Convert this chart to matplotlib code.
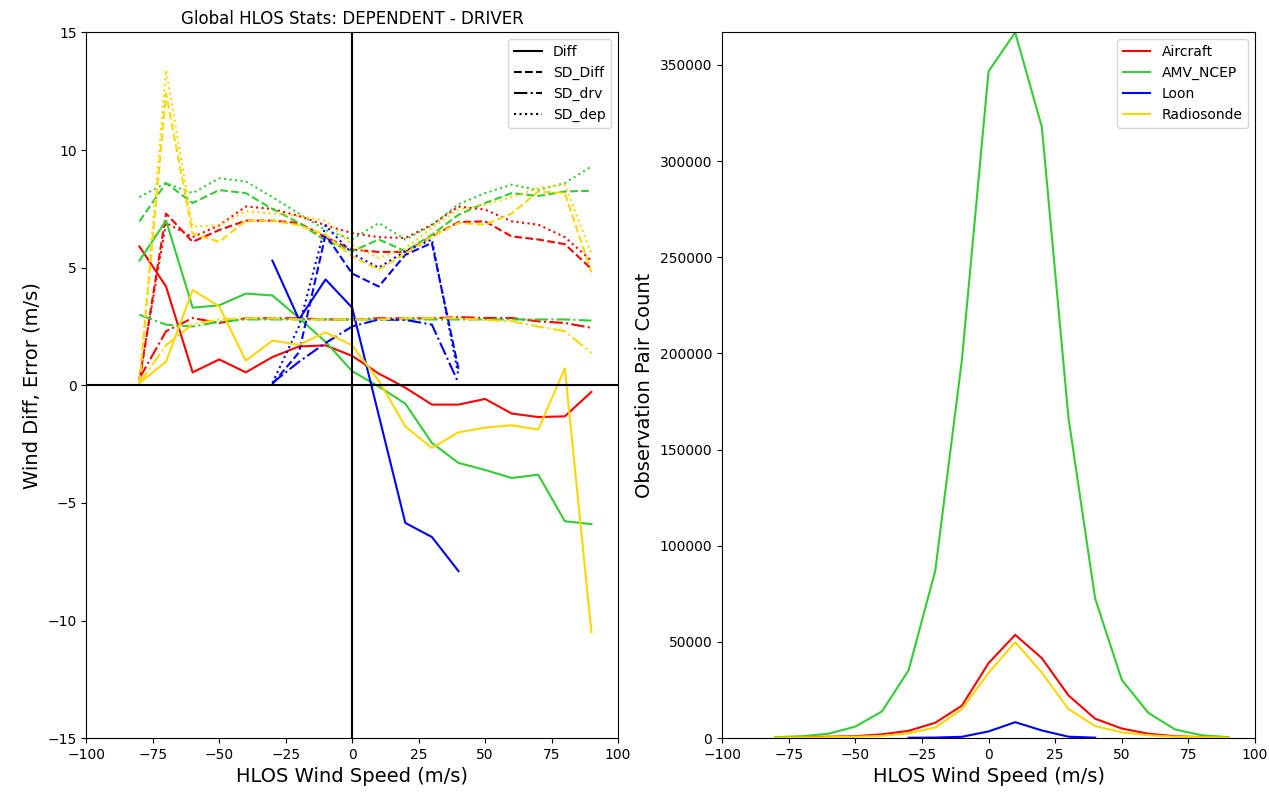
import numpy as np
import matplotlib
matplotlib.use("Agg")
import matplotlib.pyplot as plt

# HLOS wind speed bins
x = [-80, -70, -60, -50, -40, -30, -20, -10, 0, 10, 20, 30, 40, 50, 60, 70, 80, 90]
x_loon = [-30, -20, -10, 0, 10, 20, 30, 40]

# Diff (dependent - driver)
diff_air = [5.9, 4.2, 0.55, 1.1, 0.55, 1.2, 1.65, 1.7, 1.25, 0.5, -0.1, -0.82, -0.82, -0.58, -1.2, -1.35, -1.32, -0.28]
diff_amv = [5.3, 7.0, 3.3, 3.4, 3.9, 3.82, 2.86, 1.85, 0.6, -0.05, -0.78, -2.45, -3.3, -3.6, -3.94, -3.8, -5.78, -5.9]
diff_loon = [5.3, 2.8, 4.5, 3.3, -1.27, -5.85, -6.45, -7.9]
diff_rs = [0.1, 1.0, 4.05, 3.35, 1.05, 1.9, 1.72, 2.25, 1.7, 0.2, -1.75, -2.66, -2.0, -1.8, -1.7, -1.88, 0.72, -10.5]

# SD of diff
sdd_air = [0.2, 7.3, 6.1, 6.6, 7.0, 7.0, 6.9, 6.3, 5.77, 5.67, 5.67, 6.33, 6.94, 6.97, 6.33, 6.2, 6.0, 4.95]
sdd_amv = [6.97, 8.6, 7.75, 8.3, 8.17, 7.5, 6.9, 6.15, 5.7, 6.2, 5.7, 6.4, 7.25, 7.75, 8.17, 8.05, 8.24, 8.27]
sdd_loon = [0.05, 1.4, 6.4, 4.75, 4.2, 5.55, 6.05, 0.7]
sdd_rs = [0.1, 12.4, 6.45, 6.1, 7.0, 7.0, 6.8, 6.4, 5.48, 4.92, 5.6, 6.33, 6.9, 6.83, 7.3, 8.24, 8.17, 4.8]

# SD of driver
sdv_air = [0.3, 2.3, 2.86, 2.65, 2.85, 2.85, 2.85, 2.8, 2.8, 2.85, 2.85, 2.85, 2.9, 2.86, 2.86, 2.72, 2.65, 2.44]
sdv_amv = [3.0, 2.58, 2.5, 2.7, 2.8, 2.8, 2.8, 2.8, 2.8, 2.8, 2.8, 2.8, 2.8, 2.8, 2.8, 2.8, 2.8, 2.75]
sdv_loon = [0.1, 1.0, 1.8, 2.5, 2.8, 2.78, 2.58, 0.1]
sdv_rs = [0.1, 1.7, 2.6, 2.8, 2.85, 2.85, 2.8, 2.8, 2.8, 2.8, 2.85, 2.85, 2.85, 2.78, 2.72, 2.5, 2.3, 1.37]

# SD of dependent
sdp_air = [0.3, 6.9, 6.3, 6.8, 7.6, 7.5, 7.2, 6.8, 6.47, 6.3, 6.26, 6.83, 7.6, 7.47, 6.97, 6.83, 6.3, 5.3]
sdp_amv = [8.0, 8.6, 8.17, 8.8, 8.67, 8.0, 7.3, 6.6, 6.2, 6.9, 6.2, 6.8, 7.7, 8.17, 8.53, 8.3, 8.6, 9.3]
sdp_loon = [0.1, 2.5, 6.8, 5.6, 5.0, 5.7, 6.2, 0.4]
sdp_rs = [0.1, 13.4, 6.75, 6.8, 7.4, 7.3, 7.2, 7.0, 5.98, 5.41, 5.83, 6.69, 7.47, 7.68, 8.0, 8.39, 8.53, 5.6]

# observation pair counts
cnt_air = [250, 500, 750, 1000, 2000, 3800, 8000, 16900, 39000, 53700, 41600, 22200, 10100, 5000, 2300, 1000, 500, 250]
cnt_amv = [500, 1000, 2300, 6000, 13900, 35300, 87000, 196700, 346700, 366900, 317700, 166400, 72600, 30300, 13100, 4500, 1500, 500]
cnt_loon = [200, 300, 700, 3500, 8300, 4000, 750, 250]
cnt_rs = [250, 300, 500, 700, 1200, 2500, 5500, 15100, 34000, 49900, 34000, 15100, 6300, 3000, 1500, 750, 500, 250]

names = ['Aircraft', 'AMV_NCEP', 'Loon', 'Radiosonde']
colors = ['red', 'limegreen', 'blue', 'gold']
xs = [x, x, x_loon, x]
diffs = [diff_air, diff_amv, diff_loon, diff_rs]
sdds = [sdd_air, sdd_amv, sdd_loon, sdd_rs]
sdvs = [sdv_air, sdv_amv, sdv_loon, sdv_rs]
sdps = [sdp_air, sdp_amv, sdp_loon, sdp_rs]
counts = [cnt_air, cnt_amv, cnt_loon, cnt_rs]

fig = plt.figure(figsize=(12.69, 7.92), dpi=100)
ax1 = fig.add_axes([0.068, 0.068, 0.419, 0.891])
ax2 = fig.add_axes([0.569, 0.068, 0.420, 0.891])

for i in range(4):
    ax1.plot(xs[i], diffs[i], color=colors[i], ls='-', lw=1.5)
    ax1.plot(xs[i], sdds[i], color=colors[i], ls='--', lw=1.5)
    ax1.plot(xs[i], sdvs[i], color=colors[i], ls='-.', lw=1.5)
    ax1.plot(xs[i], sdps[i], color=colors[i], ls=':', lw=1.5)

ax1.axhline(0, color='k', lw=1.5)
ax1.axvline(0, color='k', lw=1.5)
ax1.set_xlim(-100, 100)
ax1.set_ylim(-15, 15)
ax1.set_title('Global HLOS Stats: DEPENDENT - DRIVER', fontsize=12)
ax1.set_xlabel('HLOS Wind Speed (m/s)', fontsize=14)
ax1.set_ylabel('Wind Diff, Error (m/s)', fontsize=14)
h = [plt.Line2D([], [], color='k', ls=s, lw=1.5) for s in ['-', '--', '-.', ':']]
ax1.legend(h, ['Diff', 'SD_Diff', 'SD_drv', 'SD_dep'], loc='upper right')

for i in range(4):
    ax2.plot(xs[i], counts[i], color=colors[i], lw=1.5, label=names[i])
ax2.set_xlim(-100, 100)
ax2.set_ylim(0, max(cnt_amv))
ax2.set_xlabel('HLOS Wind Speed (m/s)', fontsize=14)
ax2.set_ylabel('Observation Pair Count', fontsize=14)
ax2.legend(loc='upper right')

plt.savefig('out.png', dpi=100)
